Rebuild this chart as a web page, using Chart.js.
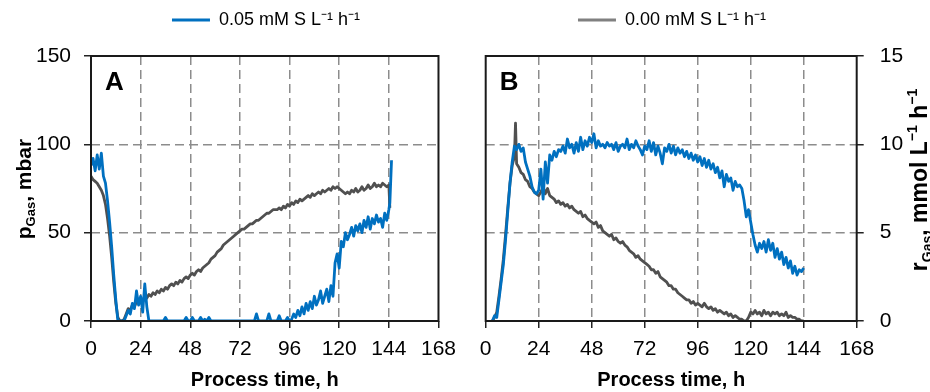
<!DOCTYPE html>
<html>
<head>
<meta charset="utf-8">
<script src="https://cdn.jsdelivr.net/npm/chart.js@4"></script>
<style>
  html, body { margin: 0; padding: 0; background: #fff; }
  #wrap { position: relative; width: 930px; height: 392px; }
  canvas { position: absolute; top: 0; }
  #chartA { left: 0; }
  #chartB { left: 465px; }
</style>
</head>
<body>
<div id="wrap">
  <canvas id="chartA" width="465" height="392"></canvas>
  <canvas id="chartB" width="465" height="392"></canvas>
</div>
<script>
const FONT = '"Liberation Sans Narrow", "Arial Narrow", "Liberation Sans", Arial, sans-serif';
const LETTER_FONT = '"Liberation Sans", Arial, sans-serif';
const BLUE = '#0070c0';
const GRAY = '#505050';
const GRAY_LEGEND = '#808080';

const seriesLabels = ['0.05 mM S L⁻¹ h⁻¹', '0.00 mM S L⁻¹ h⁻¹'];
const timeTicks = [0, 24, 48, 72, 96, 120, 144, 168];
const pGasTicks = [0, 50, 100, 150];
const rGasTicks = [0, 5, 10, 15];

// sampling grid, one reading per hour
const hours = Array.from({length: 145}, (_, i) => i);

// panel A: pGas, mbar
const pGas005 = [
  88, 92, 85, 94, 86, 95, 82, 78, 68, 56,
  42, 26, 12, 0, 0, 0, 0, 3, 6, 4,
  10, 7, 17, 9, 14, 5, 21, 8, 0, 0,
  0, 0, 0, 0, 0, 0, 2, 0, 0, 0,
  0, 0, 0, 0, 0, 0, 2, 0, 0, 2,
  0, 0, 0, 2, 0, 1, 0, 2, 0, 0,
  0, 0, 0, 0, 0, 0, 0, 0, 0, 0,
  0, 0, 0, 0, 0, 0, 0, 0, 0, 0,
  4, 0, 0, 0, 0, 0, 4, 0, 0, 0,
  0, 3, 0, 0, 0, 2, 0, 1, 4, 2,
  6, 3, 8, 4, 10, 6, 11, 7, 14, 9,
  12, 17, 10, 14, 18, 11, 20, 14, 33, 38,
  30, 45, 42, 50, 46, 49, 53, 48, 54, 51,
  55, 50, 57, 53, 59, 52, 58, 55, 60, 56,
  58, 53, 61, 57, 63
];
const pGas005Tail = [[144.5, 67], [145.3, 91]];

const pGas000 = [
  82, 80, 79, 78, 76, 74, 71, 66, 58, 48,
  36, 22, 10, 2, 0, 0, 1, 4, 7, 6,
  9, 8, 11, 10, 13, 11, 14, 13, 15, 14,
  16, 15, 17, 16, 18, 17, 19, 18, 20, 21,
  20, 22, 21, 23, 22, 24, 25, 24, 26, 27,
  26, 28, 29, 28, 30, 31, 32, 33, 35, 36,
  37, 39, 40, 41, 43, 44, 45, 46, 47, 48,
  49, 50, 51, 52, 52, 53, 54, 55, 55, 56,
  57, 57, 58, 59, 60, 61, 61, 62, 63, 63,
  63, 64, 63, 65, 64, 66, 65, 67, 66, 68,
  67, 69, 68, 69, 70, 71, 70, 72, 71, 72,
  73, 72, 74, 73, 74, 75, 74, 76, 75, 76,
  75, 74, 73, 72, 73, 72, 74, 73, 75, 73,
  74, 76, 74, 75, 77, 75, 76, 78, 76, 77,
  76, 78, 77, 76, 77
];
const pGas000Tail = [[144.5, 64]];

// panel B: rGas, mmol L-1 h-1
const rGas005 = [
  null, null, null, 0, 0.3, 0.2, 1.2, 2.2, 3.2, 4.6,
  6.2, 7.8, 9.0, 9.9, 9.7, 10.0, 9.6, 9.8, 9.0, 8.6,
  8.2, 7.6, 7.3, 7.2, 7.4, 8.6, 6.9, 9.0, 7.8, 9.4,
  9.1, 9.6, 9.3, 9.7, 9.6, 9.9, 9.5, 10.3, 9.8, 10.0,
  9.5, 10.1, 9.6, 10.4, 9.7, 10.2, 9.9, 10.4, 10.1, 10.6,
  9.8, 10.2, 9.9, 10.0, 9.8, 10.1, 9.9, 10.0, 9.7, 10.1,
  9.6, 9.9, 10.0, 9.8, 10.3, 9.7, 10.0, 9.8, 10.2, 9.9,
  9.7, 9.4, 9.9, 9.7, 10.2, 9.6, 10.1, 9.4, 9.9, 9.5,
  8.9, 9.8, 9.6, 10.0, 9.5, 9.9, 9.4, 9.8, 9.5, 9.7,
  9.3, 9.6, 9.2, 9.5, 9.1, 9.4, 9.0, 9.3, 8.8, 9.2,
  8.7, 9.1, 8.6, 8.9, 8.4, 8.7, 8.1, 8.5, 7.6, 8.3,
  7.9, 8.1, 7.4, 7.9, 7.6, 7.7, 7.5, 6.8, 5.9, 6.3,
  5.6, 4.9, 4.3, 3.9, 4.4, 4.1, 4.5, 3.9, 4.6, 4.0,
  4.4, 3.6, 4.1, 3.5, 3.9, 3.2, 3.6, 3.0, 3.4, 2.7,
  3.1, 2.6, 2.9, 2.8, 3.0
];

const rGas000 = [
  null, null, null, 0, 0.2, 0.5, 1.4, 2.4, 3.5, 4.9,
  6.4, 7.8, 8.8, 9.3, 8.9, 8.7, 8.4, 8.3, 8.0, 7.9,
  7.6, 7.5, 7.3, 7.2, 7.1, 7.3, 7.6, 7.2, 7.5, 7.1,
  7.0, 6.9, 6.7, 6.8, 6.6, 6.7, 6.5, 6.6, 6.4, 6.5,
  6.3, 6.2, 6.1, 6.2, 5.9, 6.0, 5.8, 5.7, 5.6, 5.5,
  5.6, 5.3, 5.4, 5.1, 5.0, 4.9, 4.8, 4.9, 4.6, 4.7,
  4.5, 4.4, 4.5, 4.3, 4.2, 4.0, 3.9, 3.8, 3.6, 3.7,
  3.5, 3.4, 3.3, 3.2, 3.1, 2.9, 2.9, 2.7, 2.8, 2.5,
  2.4, 2.3, 2.2, 2.0, 2.0, 1.8, 1.8, 1.6, 1.5, 1.4,
  1.3, 1.2, 1.2, 1.0, 1.1, 0.9, 1.0, 0.9, 0.8, 1.0,
  0.8, 0.7, 0.8, 0.6, 0.7, 0.5, 0.6, 0.5, 0.4, 0.5,
  0.3, 0.4, 0.2, 0.3, 0.2, 0.1, 0.1, 0.0, 0.0, 0.2,
  0.5, 0.4, 0.6, 0.4, 0.5, 0.3, 0.6, 0.4, 0.5, 0.3,
  0.5, 0.4, 0.5, 0.3, 0.4, 0.3, 0.5, 0.2, 0.3, 0.2,
  0.2, 0.1, 0.1, 0.0, 0.0
];
const rGas000Spike = [[13.5, 11.2]];

function toPoints(values, extra) {
  const pts = hours.map((h, i) => ({x: h, y: values[i]}));
  (extra || []).forEach(([x, y]) => pts.push({x, y}));
  return pts.sort((a, b) => a.x - b.x);
}

function lineSet(label, color, data) {
  return {
    label, data,
    borderColor: color, backgroundColor: color,
    borderWidth: 2.8, pointRadius: 0, tension: 0,
    borderJoinStyle: 'round', spanGaps: false
  };
}

const gridColor = (edges) => (ctx) =>
  (ctx.tick && edges.includes(ctx.tick.value)) ? 'rgba(0,0,0,0)' : '#8c8c8c';

function timeAxis() {
  return {
    type: 'linear', min: 0, max: 168,
    afterBuildTicks: s => { s.ticks = timeTicks.map(v => ({value: v})); },
    afterFit: s => { s.height = 71; },
    ticks: {color: '#000', font: {family: FONT, size: 21}, padding: 9, maxRotation: 0, autoSkip: false},
    grid: {color: gridColor([0, 168]), lineWidth: 1.5, tickLength: 7, tickColor: '#222', tickWidth: 1.5},
    border: {display: false, dash: [9, 5]},
    title: {display: true, text: 'Process time, h', color: '#000',
      font: {family: FONT, size: 20, weight: 'bold', lineHeight: 1.2}, padding: {top: 0, bottom: 0}}
  };
}

function valueAxis(tickList, position, width, pad) {
  const max = tickList[tickList.length - 1];
  return {
    type: 'linear', position, min: 0, max,
    afterBuildTicks: s => { s.ticks = tickList.map(v => ({value: v})); },
    afterFit: s => { s.width = width; },
    ticks: {color: '#000', font: {family: FONT, size: 21}, padding: pad},
    grid: {color: gridColor([0, max]), lineWidth: 1.5, tickLength: 7, tickColor: '#222', tickWidth: 1.5},
    border: {display: false, dash: [9, 5]}
  };
}

function drawRich(ctx, parts, cx, cy) {
  ctx.save();
  ctx.translate(cx, cy);
  ctx.rotate(-Math.PI / 2);
  let total = 0;
  parts.forEach(p => {
    ctx.font = `bold ${p.size}px ${FONT}`;
    p.w = ctx.measureText(p.text).width;
    total += p.w;
  });
  let x = -total / 2;
  ctx.fillStyle = '#000';
  ctx.textBaseline = 'alphabetic';
  parts.forEach(p => {
    ctx.font = `bold ${p.size}px ${FONT}`;
    ctx.fillText(p.text, x, p.dy);
    x += p.w;
  });
  ctx.restore();
}

function panelDecor(letter, titleParts, titleX, titleY, legendCenter) {
  return {
    id: 'panelDecor' + letter,
    beforeInit(chart) {
      const fit = chart.legend.fit;
      chart.legend.fit = function () { fit.call(this); this.height = 56; };
    },
    beforeDraw(chart) {
      const lg = chart.legend;
      const w = lg.right - lg.left;
      lg.left = legendCenter - w / 2;
      lg.right = legendCenter + w / 2;
    },
    afterDatasetsDraw(chart) {
      const {ctx, chartArea: a} = chart;
      ctx.save();
      ctx.strokeStyle = '#1a1a1a';
      ctx.lineWidth = 2;
      ctx.strokeRect(a.left, a.top, a.right - a.left, a.bottom - a.top);
      ctx.font = `bold 26px ${LETTER_FONT}`;
      ctx.fillStyle = '#000';
      ctx.textBaseline = 'alphabetic';
      ctx.fillText(letter, a.left + 14, a.top + 34);
      ctx.restore();
    },
    afterDraw(chart) {
      drawRich(chart.ctx, titleParts, titleX, titleY);
    }
  };
}

function legendOptions(showIndex) {
  return {
    display: true, position: 'top', align: 'center',
    labels: {
      usePointStyle: true, pointStyle: 'line', pointStyleWidth: 38,
      padding: 11, color: '#000', font: {family: FONT, size: 18},
      filter: item => item.datasetIndex === showIndex,
      generateLabels: chart => Chart.defaults.plugins.legend.labels.generateLabels(chart).map(l => {
        l.lineWidth = 3;
        if (l.datasetIndex === 1) l.strokeStyle = GRAY_LEGEND;
        return l;
      })
    }
  };
}

const chartA = new Chart(document.getElementById('chartA'), {
  type: 'line',
  data: {
    datasets: [
      lineSet(seriesLabels[0], BLUE, toPoints(pGas005, pGas005Tail)),
      lineSet(seriesLabels[1], GRAY, toPoints(pGas000, pGas000Tail))
    ]
  },
  options: {
    responsive: false, animation: false, devicePixelRatio: 1,
    layout: {padding: {left: 0, right: 25, top: 0, bottom: 0}},
    scales: {x: timeAxis(), y: valueAxis(pGasTicks, 'left', 91, 13)},
    plugins: {legend: legendOptions(0), tooltip: {enabled: false}}
  },
  plugins: [panelDecor('A', [
    {text: 'p', size: 21, dy: 0},
    {text: 'Gas', size: 13, dy: 4},
    {text: ', mbar', size: 21, dy: 0}
  ], 31, 189, 266)]
});

const chartB = new Chart(document.getElementById('chartB'), {
  type: 'line',
  data: {
    datasets: [
      lineSet(seriesLabels[0], BLUE, toPoints(rGas005)),
      lineSet(seriesLabels[1], GRAY, toPoints(rGas000, rGas000Spike))
    ]
  },
  options: {
    responsive: false, animation: false, devicePixelRatio: 1,
    layout: {padding: {left: 20.7, right: 0, top: 0, bottom: 0}},
    scales: {x: timeAxis(), y: valueAxis(rGasTicks, 'right', 73.3, 16)},
    plugins: {legend: legendOptions(1), tooltip: {enabled: false}}
  },
  plugins: [panelDecor('B', [
    {text: 'r', size: 23, dy: 0},
    {text: 'Gas', size: 14, dy: 5},
    {text: ', mmol L', size: 23, dy: 0},
    {text: '−1', size: 14, dy: -10},
    {text: ' h', size: 23, dy: 0},
    {text: '−1', size: 14, dy: -10}
  ], 461.5, 180, 207)]
});
</script>
</body>
</html>
